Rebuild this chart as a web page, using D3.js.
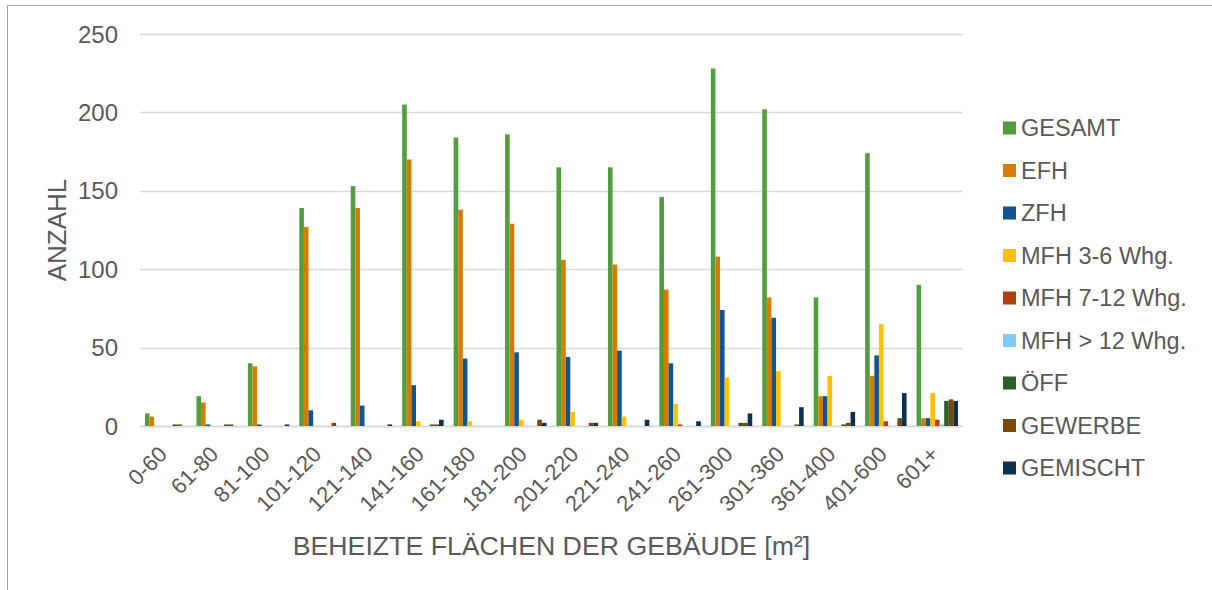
<!DOCTYPE html>
<html>
<head>
<meta charset="utf-8">
<script src="https://cdn.jsdelivr.net/npm/d3@7"></script>
<style>
  body { margin: 0; background: #fff; }
  text { font-family: "Liberation Sans", Arial, sans-serif; fill: #595959; }
</style>
</head>
<body>
<svg id="chart" width="1212" height="590"></svg>
<script>
"use strict"

// categories (heated floor area classes) and one array per building type
var categories = ["0-60", "61-80", "81-100", "101-120", "121-140", "141-160", "161-180", "181-200",
  "201-220", "221-240", "241-260", "261-300", "301-360", "361-400", "401-600", "601+"];
var seriesNames = ["GESAMT", "EFH", "ZFH", "MFH 3-6 Whg.", "MFH 7-12 Whg.", "MFH > 12 Whg.", "ÖFF", "GEWERBE", "GEMISCHT"];
var gesamt   = [8, 19, 40, 139, 153, 205, 184, 186, 165, 165, 146, 228, 202, 82, 174, 90];
var efh      = [6, 15, 38, 127, 139, 170, 138, 129, 106, 103, 87, 108, 82, 19, 32, 5];
var zfh      = [0, 1, 1, 10, 13, 26, 43, 47, 44, 48, 40, 74, 69, 19, 45, 5];
var mfh36    = [0, 0, 0, 0, 0, 3, 3, 4, 9, 6, 14, 31, 35, 32, 65, 21];
var mfh712   = [0, 0, 0, 0, 0, 0, 0, 0, 0, 0, 1, 0, 0, 0, 3, 4];
var mfh12    = [0, 0, 0, 0, 0, 0, 0, 0, 0, 0, 0, 0, 0, 0, 0, 1];
var oeff     = [1, 1, 0, 0, 0, 1, 0, 0, 0, 0, 0, 2, 0, 1, 0, 16];
var gewerbe  = [1, 1, 0, 2, 0, 1, 0, 4, 2, 0, 0, 2, 1, 2, 5, 17];
var gemischt = [0, 0, 1, 0, 1, 4, 0, 2, 2, 4, 3, 8, 12, 9, 21, 16];
var yTicks = [0, 50, 100, 150, 200, 250];

var colors = ["#519e3e", "#d97b00", "#0f5593", "#ffc000", "#b4400f", "#7fcaff", "#2e5f27", "#7a4907", "#0d3050"];
var series = [gesamt, efh, zfh, mfh36, mfh712, mfh12, oeff, gewerbe, gemischt];

var margin = { top: 34, right: 249, bottom: 164, left: 140 };
var width = 1212 - margin.left - margin.right;   // 823
var height = 590 - margin.top - margin.bottom;   // 392

var svg = d3.select("#chart");

// outer frame of the chart object
svg.append("rect")
  .attr("x", 7.5).attr("y", 5.5)
  .attr("width", 1230).attr("height", 600)
  .attr("fill", "none").attr("stroke", "#a6a6a6").attr("stroke-width", 1);

var g = svg.append("g").attr("transform", "translate(" + margin.left + "," + margin.top + ")");

var x0 = d3.scaleBand().domain(categories).range([0, width]);
var x1 = d3.scaleBand().domain(d3.range(seriesNames.length))
  .range([5, x0.bandwidth() - 5]);
var y = d3.scaleLinear().domain([0, 250]).range([height, 0]);

// gridlines
g.selectAll(".grid").data(yTicks).enter().append("line")
  .attr("x1", 0).attr("x2", width)
  .attr("y1", function(d) { return Math.round(y(d)) + 0.5; })
  .attr("y2", function(d) { return Math.round(y(d)) + 0.5; })
  .attr("stroke", "#d9d9d9").attr("stroke-width", function(d) { return d === 0 ? 2 : 1.5; });

// y tick labels
g.selectAll(".ytick").data(yTicks).enter().append("text")
  .attr("x", -22).attr("y", function(d) { return y(d); })
  .attr("dy", "0.36em").attr("text-anchor", "end")
  .style("font-size", "24px")
  .text(function(d) { return d; });

// bars
var groups = g.selectAll(".grp").data(categories).enter().append("g")
  .attr("transform", function(d) { return "translate(" + x0(d) + ",0)"; });

groups.selectAll("rect")
  .data(function(d, i) { return series.map(function(s, k) { return { k: k, v: s[i] }; }); })
  .enter().append("rect")
  .filter(function(d) { return d.v > 0; })
  .attr("x", function(d) { return x1(d.k); })
  .attr("width", x1.bandwidth())
  .attr("y", function(d) { return y(d.v); })
  .attr("height", function(d) { return y(0) - y(d.v); })
  .attr("fill", function(d) { return colors[d.k]; });

// x tick labels, rotated
g.selectAll(".xtick").data(categories).enter().append("text")
  .attr("text-anchor", "end")
  .attr("dy", "0.36em")
  .attr("transform", function(d) {
    return "translate(" + (x0(d) + x0.bandwidth() / 2 - 3) + "," + (height + 24) + ") rotate(-45)";
  })
  .style("font-size", "22px")
  .text(function(d) { return d; });

// axis titles
svg.append("text")
  .attr("x", margin.left + width / 2).attr("y", 555)
  .attr("text-anchor", "middle")
  .style("font-size", "26.7px")
  .text("BEHEIZTE FLÄCHEN DER GEBÄUDE [m²]");

svg.append("text")
  .attr("transform", "translate(66,230) rotate(-90)")
  .attr("text-anchor", "middle")
  .style("font-size", "26px")
  .text("ANZAHL");

// legend
var legend = svg.append("g").attr("transform", "translate(1003,128)");
var items = legend.selectAll(".item").data(seriesNames).enter().append("g")
  .attr("transform", function(d, i) { return "translate(0," + (i * 42.5) + ")"; });
items.append("rect")
  .attr("x", 0).attr("y", -6.5).attr("width", 13).attr("height", 13)
  .attr("fill", function(d, i) { return colors[i]; });
items.append("text")
  .attr("x", 18).attr("dy", "0.36em")
  .style("font-size", "23.5px")
  .text(function(d) { return d; });
</script>
</body>
</html>
